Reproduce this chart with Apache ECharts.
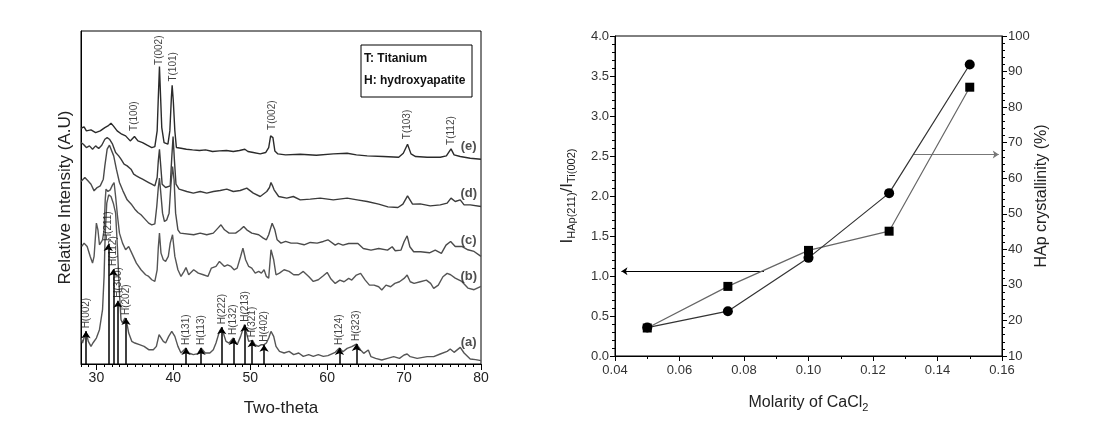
<!DOCTYPE html>
<html><head><meta charset="utf-8">
<script src="https://cdn.jsdelivr.net/npm/echarts@6/dist/echarts.min.js"></script>
<style>html,body{margin:0;padding:0;background:#fff}#c{width:1105px;height:427px}</style>
</head><body><div id="c"></div>
<script>
// ---------- Left panel: XRD patterns (Two-theta, relative intensity in arbitrary units 0..1000) ----------
const traceE = [[28.0,708],[28.4,712],[28.7,700],[29.3,703],[29.9,695],[30.5,700],[31.1,710],[31.5,715],[31.9,723],[32.2,715],[32.7,700],[33.3,690],[33.8,685],[34.4,670],[34.95,683],[35.4,670],[36.0,665],[36.6,657],[37.2,650],[37.6,653],[37.9,700],[38.05,800],[38.2,893],[38.35,800],[38.5,710],[38.8,665],[39.3,660],[39.55,700],[39.75,800],[39.85,837],[40.0,790],[40.2,700],[40.4,650],[41.0,648],[41.7,645],[42.5,643],[43.4,641],[44.2,643],[45.1,638],[46.0,640],[46.9,641],[47.8,638],[48.6,641],[49.3,645],[49.7,638],[50.4,635],[51.3,631],[52.0,635],[52.4,650],[52.65,685],[52.8,690],[52.95,680],[53.2,640],[53.6,631],[54.6,628],[56.5,630],[58.6,627],[60.8,631],[62.6,633],[63.8,628],[65.2,625],[67.3,623],[69.3,621],[69.9,633],[70.45,660],[70.9,631],[71.5,623],[73.0,621],[74.7,621],[75.5,625],[76.1,646],[76.5,628],[77.3,623],[78.6,618],[80.0,615]];
const traceD = [[28.0,665],[28.3,660],[28.7,650],[29.1,655],[29.5,645],[29.9,655],[30.3,647],[30.7,657],[31.1,675],[31.4,680],[31.7,675],[32.1,660],[32.5,635],[32.9,625],[33.2,615],[33.6,600],[34.0,595],[34.5,585],[34.85,570],[35.2,565],[35.6,560],[36.0,555],[36.4,550],[36.8,545],[37.2,540],[37.6,535],[37.9,560],[38.05,610],[38.2,645],[38.35,600],[38.55,540],[39.0,530],[39.6,535],[39.8,620],[39.97,683],[40.15,610],[40.35,540],[40.75,525],[41.75,518],[42.6,513],[43.5,518],[44.35,513],[45.2,518],[46.1,521],[46.95,525],[47.8,518],[48.7,521],[49.55,528],[50.4,513],[51.3,503],[52.15,518],[52.5,530],[52.7,545],[52.9,535],[53.1,523],[53.7,503],[54.75,498],[55.6,503],[56.5,493],[57.8,495],[59.1,498],[60.8,493],[62.6,498],[63.9,493],[65.2,488],[66.7,480],[67.9,472],[69.2,470],[69.85,480],[70.45,505],[71.1,480],[72.1,481],[73.4,475],[74.7,478],[75.6,483],[76.1,498],[76.65,488],[77.3,493],[77.8,478],[78.6,478],[80.0,473]];
const traceC = [[28.0,548],[28.5,560],[28.9,550],[29.3,540],[29.7,520],[30.1,530],[30.5,535],[30.9,555],[31.1,595],[31.4,645],[31.7,657],[31.95,653],[32.25,625],[32.6,585],[33.0,545],[33.45,520],[34.0,493],[34.6,478],[35.0,465],[35.4,455],[35.8,448],[36.2,438],[36.8,423],[37.2,418],[37.6,421],[37.85,473],[38.05,530],[38.2,558],[38.35,520],[38.6,453],[38.85,428],[39.15,433],[39.45,453],[39.67,533],[39.9,593],[40.1,553],[40.3,453],[40.6,403],[40.9,393],[42.65,388],[43.5,393],[44.35,388],[45.2,393],[45.8,408],[46.2,418],[46.65,403],[47.25,393],[48.1,393],[48.7,403],[49.15,413],[49.55,403],[50.2,393],[51.1,388],[51.7,378],[52.1,373],[52.4,388],[52.85,423],[53.2,403],[53.5,373],[54.0,363],[54.6,368],[55.3,363],[56.1,363],[57.0,358],[57.8,365],[58.7,363],[59.5,368],[60.1,373],[61.05,357],[61.45,362],[62.05,357],[62.8,362],[64.0,362],[64.7,347],[65.7,342],[66.7,347],[67.85,342],[68.45,352],[68.85,340],[69.6,342],[70.0,367],[70.4,385],[70.75,352],[71.25,337],[72.15,337],[73.3,334],[74.05,342],[74.85,332],[75.45,357],[76.05,368],[76.65,353],[77.5,353],[78.3,343],[79.1,338],[80.0,323]];
const traceB = [[28.1,353],[28.4,363],[28.8,353],[29.2,323],[29.5,303],[29.7,323],[30.0,423],[30.2,403],[30.4,358],[30.6,353],[30.8,373],[31.0,403],[31.15,493],[31.25,525],[31.5,518],[31.8,523],[32.1,538],[32.3,545],[32.5,503],[32.75,443],[33.0,393],[33.4,363],[33.8,343],[34.2,353],[34.6,333],[35.2,303],[35.8,283],[36.4,268],[36.8,263],[37.2,253],[37.6,248],[37.9,283],[38.05,350],[38.2,393],[38.4,333],[38.7,313],[39.0,308],[39.35,323],[39.6,363],[39.9,388],[40.2,323],[40.6,283],[41.0,263],[41.4,278],[41.65,290],[42.0,268],[42.65,283],[43.25,273],[43.9,268],[44.5,263],[44.95,288],[45.55,293],[46.0,308],[46.2,313],[46.65,293],[47.05,298],[47.5,293],[47.9,283],[48.3,288],[48.75,323],[49.05,348],[49.4,313],[49.8,293],[50.2,288],[50.65,273],[51.1,278],[51.45,273],[51.8,283],[52.1,263],[52.4,258],[52.7,343],[52.85,348],[53.05,313],[53.35,268],[53.8,273],[54.4,283],[55.05,278],[55.65,268],[56.3,268],[56.9,278],[57.6,263],[58.2,248],[58.85,253],[59.5,265],[60.0,275],[60.5,255],[61.05,242],[61.65,252],[62.2,247],[62.8,257],[63.2,252],[63.8,267],[64.35,272],[64.95,252],[65.5,237],[66.1,237],[66.7,232],[67.1,222],[67.65,237],[68.25,232],[68.8,242],[69.4,247],[70.0,257],[70.4,267],[70.8,247],[71.3,242],[72.1,247],[72.9,252],[73.45,242],[73.85,227],[74.45,237],[75.05,262],[75.6,272],[76.05,268],[76.65,258],[77.5,248],[78.3,228],[79.1,223],[80.0,233]];
const traceA = [[28.0,78],[28.2,63],[28.65,98],[28.95,68],[29.3,53],[29.55,63],[30.0,78],[30.4,103],[30.8,163],[31.0,263],[31.15,393],[31.35,483],[31.6,508],[31.9,503],[32.2,483],[32.5,453],[32.75,343],[33.0,213],[33.2,133],[33.4,123],[33.7,138],[34.0,118],[34.2,93],[34.6,68],[35.0,63],[35.6,58],[36.2,53],[36.8,43],[37.4,43],[37.8,53],[38.15,88],[38.4,93],[38.7,68],[39.0,63],[39.4,83],[39.8,98],[40.2,83],[40.6,53],[41.0,33],[41.65,48],[42.0,33],[42.6,28],[43.2,31],[43.6,48],[44.15,33],[44.75,33],[45.2,43],[45.55,63],[46.0,98],[46.3,110],[46.5,93],[46.85,68],[47.25,63],[47.8,78],[48.3,58],[48.75,83],[49.25,118],[49.45,98],[49.8,68],[50.3,71],[50.6,58],[51.05,53],[51.45,58],[51.8,58],[52.1,63],[52.4,78],[52.7,98],[52.9,95],[53.05,83],[53.35,53],[53.8,38],[54.4,33],[55.05,38],[55.65,28],[56.3,33],[56.9,23],[57.6,28],[58.2,23],[58.85,28],[59.5,23],[60.1,25],[61.05,35],[61.6,48],[62.05,37],[62.6,47],[63.2,52],[63.8,60],[64.35,42],[64.75,32],[65.35,42],[65.7,22],[66.3,17],[67.1,12],[67.85,17],[68.65,22],[69.4,17],[70.0,27],[70.4,30],[70.8,22],[71.7,17],[73.0,22],[73.85,22],[74.7,30],[75.6,38],[76.0,45],[76.5,35],[77.3,50],[77.8,33],[78.6,15],[79.3,13],[80.0,10]];

const xrdTicks = [30, 40, 50, 60, 70, 80];

// Hydroxyapatite reflections (arrows on pattern a)
const hNames = ['H(002)','H(211)','H(112)','H(300)','H(202)','H(131)','H(113)','H(222)','H(132)','H(213)','H(321)','H(402)','H(124)','H(323)'];
const hX     = [28.65, 31.55, 32.2, 32.8, 33.85, 41.65, 43.6, 46.3, 47.8, 49.3, 50.25, 51.8, 61.6, 63.8];
const hTip   = [98, 360, 285, 190, 138, 48, 48, 110, 78, 118, 71, 58, 48, 60];

// Titanium reflections (labels on pattern e)
const tNames = ['T(100)','T(002)','T(101)','T(002)','T(103)','T(112)'];
const tX     = [34.95, 38.2, 39.97, 52.8, 70.45, 76.1];
const tY     = [700, 898, 848, 703, 675, 658];

const sampleNames = ['(a)','(b)','(c)','(d)','(e)'];
const sampleLabelX = [78.4, 78.4, 78.4, 78.4, 78.4];
const sampleLabelY = [65, 263, 371, 513, 653];

// ---------- Right panel ----------
const molarity = [0.05, 0.075, 0.10, 0.125, 0.15];
const intensityRatio = [0.35, 0.87, 1.32, 1.56, 3.36];   // left axis, squares
const crystallinity = [18.0, 22.6, 37.6, 55.8, 92.0];    // right axis (%), circles
const ratioArrow = [[0.0862, 1.06], [0.042, 1.06]];
const crystArrow = [[0.1324, 66.7], [0.159, 66.7]];

const zip = (xs, ys) => xs.map((x, i) => [x, ys[i]]);
const font = 'Liberation Sans, Arial, sans-serif';

const chart = echarts.init(document.getElementById('c'), null, {renderer: 'canvas'});
const lineTrace = (data, color) => ({
  type: 'line', xAxisIndex: 0, yAxisIndex: 0, data, showSymbol: false, symbol: 'none',
  lineStyle: {color, width: 1.4}, silent: true, z: 2
});

chart.setOption({
  animation: false,
  textStyle: {fontFamily: font},
  grid: [
    {left: 81, top: 31, width: 400, height: 333, show: true, borderColor: '#000', borderWidth: 1},
    {left: 615, top: 36, width: 387, height: 320, show: true, borderColor: '#000', borderWidth: 1}
  ],
  xAxis: [
    {gridIndex: 0, type: 'value', min: 28, max: 80, position: 'bottom',
     axisLine: {lineStyle: {color: '#000', width: 1}},
     axisTick: {customValues: xrdTicks, length: 6, lineStyle: {color: '#000'}},
     axisLabel: {customValues: xrdTicks, fontSize: 14, color: '#222', margin: 7, fontFamily: font},
     splitLine: {show: false},
     name: 'Two-theta', nameLocation: 'middle', nameGap: 36,
     nameTextStyle: {fontSize: 17, color: '#222', fontFamily: font}},
    {gridIndex: 0, type: 'value', min: 28, max: 80, interval: 1, position: 'bottom',
     axisLine: {show: false}, axisTick: {length: 3, lineStyle: {color: '#000'}},
     axisLabel: {show: false}, splitLine: {show: false}},
    {gridIndex: 1, type: 'value', min: 0.04, max: 0.16, interval: 0.02, position: 'bottom',
     axisLine: {lineStyle: {color: '#000'}},
     axisTick: {length: 5, lineStyle: {color: '#000'}},
     minorTick: {show: true, splitNumber: 2, length: 3, lineStyle: {color: '#000'}},
     axisLabel: {formatter: v => v.toFixed(2), fontSize: 13, color: '#333', margin: 8, fontFamily: font},
     splitLine: {show: false},
     name: 'Molarity of CaCl{s|2}', nameLocation: 'middle', nameGap: 37,
     nameTextStyle: {fontSize: 16, color: '#222', fontFamily: font,
       rich: {s: {fontSize: 11, color: '#222', padding: [9, 0, 0, 0], fontFamily: font}}}}
  ],
  yAxis: [
    {gridIndex: 0, type: 'value', min: 0, max: 1000,
     axisLine: {show: true, lineStyle: {color: '#000'}}, axisTick: {show: false}, axisLabel: {show: false},
     splitLine: {show: false},
     name: 'Relative Intensity (A.U)', nameLocation: 'middle', nameGap: 7,
     nameTextStyle: {fontSize: 17, color: '#222', fontFamily: font}},
    {gridIndex: 1, type: 'value', min: 0, max: 4, interval: 0.5, position: 'left',
     axisLine: {show: true, lineStyle: {color: '#000'}},
     axisTick: {length: 5, lineStyle: {color: '#000'}},
     minorTick: {show: true, splitNumber: 5, length: 3, lineStyle: {color: '#000'}},
     axisLabel: {formatter: v => v.toFixed(1), fontSize: 13, color: '#333', margin: 6, fontFamily: font},
     splitLine: {show: false},
     name: '{m|I}{s|HAp(211)}{m|/I}{s|Ti(002)}', nameLocation: 'middle', nameGap: 38,
     nameTextStyle: {fontSize: 17, color: '#222', fontFamily: font,
       rich: {m: {fontSize: 17, color: '#222', fontFamily: font},
              s: {fontSize: 11, color: '#222', padding: [9, 0, 0, 0], fontFamily: font}}}},
    {gridIndex: 1, type: 'value', min: 10, max: 100, interval: 10, position: 'right',
     axisLine: {show: true, lineStyle: {color: '#000'}},
     axisTick: {length: 5, lineStyle: {color: '#000'}},
     minorTick: {show: true, splitNumber: 5, length: 3, lineStyle: {color: '#000'}},
     axisLabel: {fontSize: 13, color: '#333', margin: 6, fontFamily: font},
     splitLine: {show: false},
     name: 'HAp crystallinity (%)', nameLocation: 'middle', nameGap: 32, nameRotate: 90,
     nameTextStyle: {fontSize: 16, color: '#222', fontFamily: font}}
  ],
  graphic: [
    {type: 'rect', shape: {x: 361, y: 45, width: 111, height: 52}, style: {fill: '#fff', stroke: '#000', lineWidth: 1}, z: 10},
    {type: 'text', x: 364, y: 59, style: {text: 'T: Titanium', font: 'bold 12px ' + font, fill: '#111', verticalAlign: 'middle'}, z: 11},
    {type: 'text', x: 364, y: 81, style: {text: 'H: hydroxyapatite', font: 'bold 12px ' + font, fill: '#111', verticalAlign: 'middle'}, z: 11}
  ],
  series: [
    lineTrace(traceE, '#2a2a2a'),
    lineTrace(traceD, '#3a3a3a'),
    lineTrace(traceC, '#4a4a4a'),
    lineTrace(traceB, '#555555'),
    lineTrace(traceA, '#555555'),
    {type: 'lines', coordinateSystem: 'cartesian2d', xAxisIndex: 0, yAxisIndex: 0, polyline: false,
     data: hX.map((x, i) => ({coords: [[x, 0], [x, hTip[i]]]})),
     symbol: ['none', 'arrow'], symbolSize: [0, 7],
     lineStyle: {color: '#000', width: 1.5, opacity: 1}, z: 3, silent: true},
    {type: 'scatter', xAxisIndex: 0, yAxisIndex: 0, symbolSize: 0, silent: true, z: 4,
     data: hX.map((x, i) => ({name: hNames[i], value: [x, hTip[i]]})),
     label: {show: true, formatter: p => p.name, position: 'top', distance: 3, rotate: 90,
             align: 'left', verticalAlign: 'middle', fontSize: 10, color: '#111', fontFamily: font}},
    {type: 'scatter', xAxisIndex: 0, yAxisIndex: 0, symbolSize: 0, silent: true, z: 4,
     data: tX.map((x, i) => ({name: tNames[i], value: [x, tY[i]]})),
     label: {show: true, formatter: p => p.name, position: 'top', distance: 0, rotate: 90,
             align: 'left', verticalAlign: 'middle', fontSize: 10, color: '#111', fontFamily: font}},
    {type: 'scatter', xAxisIndex: 0, yAxisIndex: 0, symbolSize: 0, silent: true, z: 4,
     data: sampleNames.map((n, i) => ({name: n, value: [sampleLabelX[i], sampleLabelY[i]]})),
     label: {show: true, formatter: p => p.name, position: 'inside', fontSize: 13, fontWeight: 'bold', color: '#222', fontFamily: font}},
    {type: 'line', xAxisIndex: 2, yAxisIndex: 1, data: zip(molarity, intensityRatio),
     symbol: 'rect', symbolSize: 9, itemStyle: {color: '#000'}, lineStyle: {color: '#666', width: 1.2}, z: 3},
    {type: 'line', xAxisIndex: 2, yAxisIndex: 2, data: zip(molarity, crystallinity),
     symbol: 'circle', symbolSize: 10, itemStyle: {color: '#000'}, lineStyle: {color: '#333', width: 1.2}, z: 3},
    {type: 'lines', coordinateSystem: 'cartesian2d', xAxisIndex: 2, yAxisIndex: 1,
     data: [{coords: ratioArrow}], symbol: ['none', 'arrow'], symbolSize: [0, 6],
     lineStyle: {color: '#000', width: 1, opacity: 1}, silent: true},
    {type: 'lines', coordinateSystem: 'cartesian2d', xAxisIndex: 2, yAxisIndex: 2,
     data: [{coords: crystArrow}], symbol: ['none', 'arrow'], symbolSize: [0, 6],
     lineStyle: {color: '#777', width: 1, opacity: 1}, silent: true}
  ]
});
</script></body></html>
